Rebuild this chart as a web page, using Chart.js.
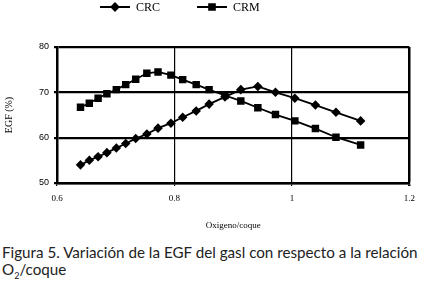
<!DOCTYPE html>
<html>
<head>
<meta charset="utf-8">
<script src="https://cdn.jsdelivr.net/npm/chart.js@4"></script>
<style>
  html, body { margin: 0; padding: 0; background: #fff; }
  #wrap { position: relative; width: 422px; height: 286px; overflow: hidden; }
  #box { position: absolute; left: 0; top: 0; width: 422px; height: 236px; }
  #caption {
    position: absolute; left: 2px; top: 244px; width: 420px;
    font-family: Lato, sans-serif; font-size: 15.2px; line-height: 17px; color: #222;
  }
</style>
</head>
<body>
<div id="wrap">
  <div id="box"><canvas id="egfChart"></canvas></div>
  <div id="caption">Figura 5. Variación de la EGF del gasl con respecto a la relación O<sub style="font-size:9px">2</sub>/coque</div>
</div>
<script>
// values
const ratio = [0.640, 0.655, 0.670, 0.685, 0.701, 0.717, 0.734, 0.753, 0.772, 0.794,
               0.814, 0.837, 0.859, 0.886, 0.913, 0.942, 0.972, 1.005, 1.040, 1.075, 1.117];
const crc = [54.0, 55.0, 55.8, 56.7, 57.7, 58.7, 59.8, 60.8, 62.1, 63.2,
             64.5, 65.9, 67.4, 69.0, 70.6, 71.3, 70.0, 68.7, 67.2, 65.6, 63.7];
const crm = [66.7, 67.6, 68.7, 69.7, 70.6, 71.7, 72.9, 74.2, 74.5, 73.8,
             72.8, 71.7, 70.6, 69.3, 68.1, 66.6, 65.1, 63.7, 62.0, 60.1, 58.4];
const xTicks = [0.6, 0.8, 1, 1.2];
const yTicks = [50, 60, 70, 80];

const toPoints = ys => ratio.map((x, i) => ({ x: x, y: ys[i] }));

// legend drawn above the plot: short line with marker, then label
const lineLegend = {
    id: 'lineLegend',
    afterDraw(chart) {
        const ctx = chart.ctx;
        const slots = [100, 197];
        ctx.save();
        chart.data.datasets.forEach((ds, i) => {
            const x0 = slots[i], y = 7;
            ctx.strokeStyle = '#000';
            ctx.lineWidth = 2;
            ctx.beginPath();
            ctx.moveTo(x0, y);
            ctx.lineTo(x0 + 30, y);
            ctx.stroke();
            Chart.helpers.drawPoint(ctx, {
                pointStyle: ds.pointStyle,
                radius: ds.pointRadius,
                rotation: 0,
                borderWidth: 1
            }, x0 + 15, y);
            ctx.fillStyle = '#000';
            ctx.font = '12px "Liberation Serif", serif';
            ctx.textBaseline = 'middle';
            ctx.fillText(ds.label, x0 + 36, y + 1);
        });
        ctx.restore();
    }
};

new Chart(document.getElementById('egfChart'), {
    type: 'scatter',
    plugins: [ lineLegend ],
    data: {
        datasets: [
            {
                label: 'CRC',
                data: toPoints(crc),
                showLine: true,
                borderColor: '#000',
                backgroundColor: '#000',
                borderWidth: 1.8,
                pointStyle: 'rectRot',
                pointRadius: 3.5,
                pointHoverRadius: 3.5
            },
            {
                label: 'CRM',
                data: toPoints(crm),
                showLine: true,
                borderColor: '#000',
                backgroundColor: '#000',
                borderWidth: 1.8,
                pointStyle: 'rect',
                pointRadius: 4,
                pointHoverRadius: 4
            }
        ]
    },
    options: {
        responsive: true,
        maintainAspectRatio: false,
        animation: false,
        layout: {
            padding: { top: 47, right: 12, bottom: 2, left: 0 }
        },
        plugins: {
            legend: { display: false },
            tooltip: { enabled: false }
        },
        scales: {
            x: {
                type: 'linear',
                min: 0.6,
                max: 1.2,
                afterBuildTicks: scale => {
                    scale.ticks = xTicks.map(v => ({ value: v }));
                },
                afterFit: scale => { scale.height = 51; },
                ticks: {
                    color: '#000',
                    padding: 7,
                    font: { family: '"Liberation Serif", serif', size: 9 },
                    callback: v => String(v)
                },
                grid: {
                    color: '#000',
                    lineWidth: c => (c.index === xTicks.length - 1 ? 2.5 : 1.2),
                    tickLength: 3,
                    drawTicks: true
                },
                border: { color: '#000', width: 2.5 },
                title: {
                    display: true,
                    text: 'Oxigeno/coque',
                    color: '#000',
                    font: { family: '"Liberation Serif", serif', size: 9 },
                    padding: { top: 0, bottom: 3 }
                }
            },
            y: {
                min: 50,
                max: 80,
                afterBuildTicks: scale => {
                    scale.ticks = yTicks.map(v => ({ value: v }));
                },
                afterFit: scale => { scale.width = 57; },
                ticks: {
                    color: '#000',
                    padding: 5,
                    font: { family: '"Liberation Sans", Arial, sans-serif', size: 9 }
                },
                grid: {
                    color: '#000',
                    lineWidth: 2.2,
                    tickLength: 3
                },
                border: { color: '#000', width: 2.5 },
                title: {
                    display: true,
                    text: 'EGF (%)',
                    color: '#000',
                    font: { family: '"Liberation Serif", serif', size: 10 },
                    padding: { top: 3, bottom: 0 }
                }
            }
        }
    }
});
</script>
</body>
</html>
